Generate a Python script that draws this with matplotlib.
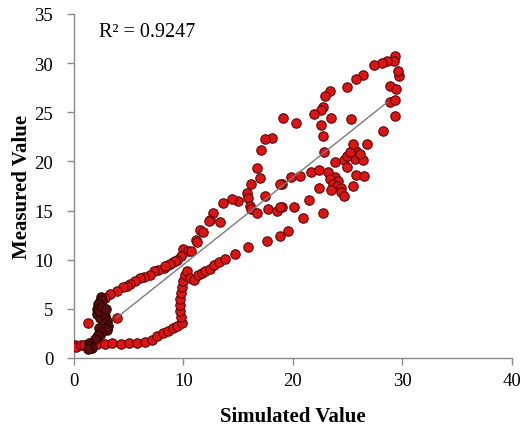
import matplotlib
matplotlib.use("Agg")
import matplotlib.pyplot as plt

plt.rcParams['font.family'] = ['Liberation Serif', 'DejaVu Serif']

# simulated vs measured values, main series
simulated = [
    0.1, 0.2, 0.6, 0.9, 1.5, 2.1, 2.8, 3.5, 4.3, 5.0, 5.8, 6.5, 7.1, 7.6, 8.1,
    8.6, 9.0, 9.4, 9.9, 9.8, 9.7, 9.7, 9.7, 9.8, 9.9, 10.0, 10.1, 10.3, 10.6,
    11.0, 11.3, 11.7, 12.0, 12.4, 12.8, 13.2, 13.8, 14.7, 15.9, 17.6, 18.8,
    19.5, 20.9, 22.7, 20.1, 19.0, 21.5, 22.4, 19.0, 19.8, 20.6, 21.6, 22.4,
    23.2, 23.8, 23.4, 24.1, 23.7, 24.0, 24.4, 23.5, 24.4, 24.7, 25.8, 26.5,
    25.5, 23.8, 24.7, 24.9, 25.7, 26.4, 24.9, 25.8, 26.1, 25.2, 22.8, 25.5,
    26.8, 22.7, 28.2, 29.3, 28.9, 29.3, 28.9, 29.4, 29.7, 29.6, 29.3, 29.2,
    28.6, 28.1, 27.4, 26.4, 25.8, 24.9, 23.4, 22.9, 22.7, 22.6, 21.9, 23.5,
    25.3, 22.6, 19.1, 20.3, 18.1, 17.4, 17.1, 16.7, 17.0, 16.2, 18.8, 17.4,
    15.8, 15.9, 15.0, 14.4, 13.6, 16.1, 16.2, 16.7, 17.7, 18.5, 18.8, 12.7,
    12.4, 13.3, 11.5, 11.8, 11.1, 11.2, 10.0, 10.4, 10.7, 9.8, 9.4, 9.0, 8.6,
    8.2, 7.7, 7.3, 6.9, 6.4, 6.0, 5.6, 5.1, 4.8, 4.5, 3.9, 3.3, 2.8, 12.3,
    1.3, 3.9, 2.1, 2.4, 9.2, 8.8, 8.3,
]
measured = [
    1.3, 1.15, 1.35, 1.3, 1.25, 1.4, 1.45, 1.5, 1.45, 1.5, 1.55, 1.65, 1.85,
    2.2, 2.5, 2.7, 3.0, 3.3, 3.6, 4.2, 4.8, 5.4, 6.0, 6.6, 7.2, 7.8, 8.4, 8.9,
    8.1, 7.9, 8.4, 8.6, 8.9, 9.1, 9.5, 9.8, 10.1, 10.6, 11.3, 11.9, 12.4,
    12.9, 14.2, 14.8, 15.4, 15.4, 16.1, 17.3, 17.7, 18.4, 18.5, 18.9, 19.1,
    18.9, 18.4, 18.2, 18.0, 17.7, 17.5, 17.3, 17.1, 16.9, 16.5, 18.6, 18.5,
    17.5, 19.9, 20.1, 19.4, 20.2, 20.1, 20.6, 21.1, 20.8, 21.0, 21.0, 21.8,
    21.8, 22.6, 23.1, 24.6, 26.0, 26.2, 27.7, 27.4, 28.7, 29.2, 30.7, 30.2,
    30.2, 30.0, 29.8, 28.8, 28.4, 27.6, 27.2, 26.7, 25.5, 25.2, 24.8, 24.4,
    24.3, 23.7, 24.4, 23.9, 22.4, 22.3, 21.2, 19.3, 18.3, 17.7, 17.7, 16.5,
    16.8, 16.3, 16.0, 16.2, 15.8, 15.5, 15.2, 14.8, 15.2, 15.0, 15.4, 14.8,
    14.0, 13.8, 13.0, 12.8, 12.0, 11.8, 11.1, 10.9, 10.9, 10.4, 10.0, 9.8,
    9.5, 9.2, 9.0, 8.8, 8.4, 8.2, 8.1, 7.8, 7.5, 7.35, 7.2, 6.85, 6.5, 6.1,
    13.9, 3.6, 4.1, 2.1, 2.3, 9.9, 9.6, 9.4,
]

# densely overlapping points near the origin
cluster_simulated = [
    2.5, 2.4, 2.6, 2.2, 2.1, 2.1, 2.4, 2.8, 3.0, 2.7, 3.1, 2.9, 3.0, 2.3,
    2.5, 2.2, 1.9, 1.4, 1.5, 1.6, 1.3, 2.3, 2.6, 2.9,
]
cluster_measured = [
    6.2, 5.8, 5.9, 5.5, 5.0, 4.5, 4.1, 4.3, 3.8, 3.5, 3.3, 3.0, 2.8, 3.0,
    2.6, 2.3, 1.9, 1.5, 1.25, 1.0, 0.9, 4.8, 5.2, 5.0,
]

# linear trend line
trend_x = [3.9, 28.6]
trend_slope = 0.887
trend_intercept = 0.64
r_squared = 0.9247

fig = plt.figure(figsize=(5.27, 4.27), dpi=100)
ax = fig.add_axes([0.1404, 0.1593, 0.8311, 0.8056])

ax.scatter(simulated, measured, s=46, c='#dd1414', edgecolors='#5a0808',
           linewidths=0.8, zorder=3)
ax.scatter(cluster_simulated, cluster_measured, s=46, c='#5a0c0c',
           edgecolors='#2a0505', linewidths=0.8, zorder=4)

trend_y = [trend_slope * x + trend_intercept for x in trend_x]
ax.plot(trend_x, trend_y, color='#7a7a7a', linewidth=1.0, zorder=5)

ax.text(2.3, 32.8, f'R\u00b2 = {r_squared}', fontsize=14.5, va='baseline')

ax.set_xlim(0, 40)
ax.set_ylim(0, 35)
ax.set_xticks(range(0, 41, 10))
ax.set_yticks(range(0, 36, 5))

for side in ('top', 'right'):
    ax.spines[side].set_visible(False)
for side in ('left', 'bottom'):
    ax.spines[side].set_color('#8a8a8a')
    ax.spines[side].set_linewidth(1.0)

ax.tick_params(axis='both', direction='out', length=5, width=1.0,
               color='#8a8a8a', labelsize=13.5)
ax.tick_params(axis='y', pad=10)
ax.tick_params(axis='x', pad=5)

ax.set_xlabel('Simulated Value', fontsize=15, fontweight='bold')
ax.set_ylabel('Measured Value', fontsize=15, fontweight='bold')
ax.xaxis.set_label_coords(0.5, -0.14)
ax.yaxis.set_label_coords(-0.095, 0.5)

fig.savefig('out.png', dpi=100)
